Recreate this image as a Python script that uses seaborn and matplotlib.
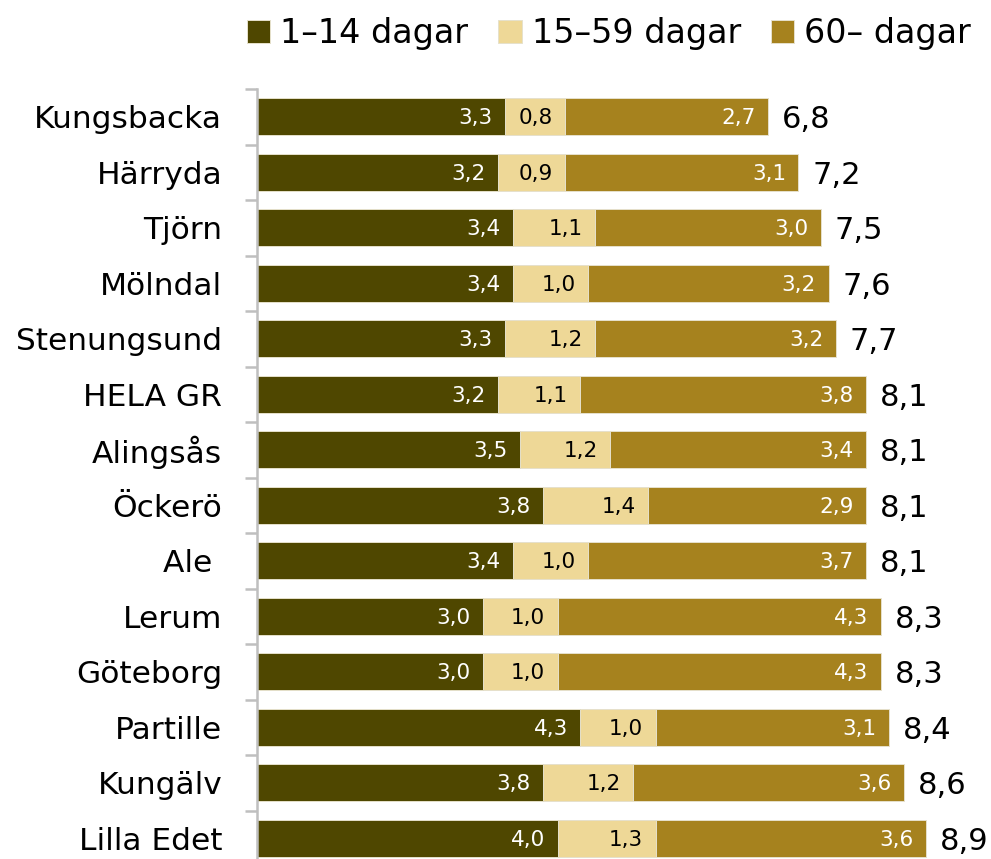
import seaborn as sns
import matplotlib.pyplot as plt
import pandas as pd
import numpy as np

# Data
kommuner = ['Kungsbacka', 'Härryda', 'Tjörn', 'Mölndal', 'Stenungsund', 'HELA GR',
            'Alingsås', 'Öckerö', 'Ale ', 'Lerum', 'Göteborg', 'Partille',
            'Kungälv', 'Lilla Edet']
dagar_1_14 = [3.3, 3.2, 3.4, 3.4, 3.3, 3.2, 3.5, 3.8, 3.4, 3.0, 3.0, 4.3, 3.8, 4.0]
dagar_15_59 = [0.8, 0.9, 1.1, 1.0, 1.2, 1.1, 1.2, 1.4, 1.0, 1.0, 1.0, 1.0, 1.2, 1.3]
dagar_60 = [2.7, 3.1, 3.0, 3.2, 3.2, 3.8, 3.4, 2.9, 3.7, 4.3, 4.3, 3.1, 3.6, 3.6]
serier = ['1–14 dagar', '15–59 dagar', '60– dagar']
farger = ['#4F4700', '#EED897', '#A6821E']

df = pd.DataFrame({'kommun': kommuner, 'a': dagar_1_14, 'b': dagar_15_59, 'c': dagar_60})
df['ab'] = df['a'] + df['b']
df['total'] = df['ab'] + df['c']

def fmt(v):
    return f'{v:.1f}'.replace('.', ',')

fig = plt.figure(figsize=(9.91, 8.59), dpi=100)
ax = fig.add_axes([257 / 991, -7 / 859, 734 / 991, 777 / 859])

# staplade staplar ritade som överlappande kumulativa staplar
for col, c, lab in [('total', farger[2], serier[2]), ('ab', farger[1], serier[1]), ('a', farger[0], serier[0])]:
    sns.barplot(data=df, y='kommun', x=col, color=c, saturation=1, label=lab, orient='h', width=0.67,
                edgecolor='#E6E1CC', linewidth=0.7, ax=ax)
handles, labels = ax.get_legend_handles_labels()
if ax.get_legend() is not None:
    ax.get_legend().remove()

y = np.arange(len(kommuner))
for i in range(len(kommuner)):
    ax.annotate(fmt(df['a'][i]), (df['a'][i], y[i]), xytext=(-9, -1), textcoords='offset points',
                ha='right', va='center', color='white', fontsize=15.5)
    ax.annotate(fmt(df['b'][i]), (df['ab'][i], y[i]), xytext=(-9, -1), textcoords='offset points',
                ha='right', va='center', color='black', fontsize=15.5)
    ax.annotate(fmt(df['c'][i]), (df['total'][i], y[i]), xytext=(-9, -1), textcoords='offset points',
                ha='right', va='center', color='white', fontsize=15.5)
    ax.annotate(fmt(df['total'][i]), (df['total'][i], y[i]), xytext=(10, -2), textcoords='offset points',
                ha='left', va='center', color='black', fontsize=22)

ax.set_xlim(0, 734 / 75.2)
ax.set_ylim(len(kommuner) - 0.5, -0.5)
ax.set_xlabel('')
ax.set_ylabel('')
ax.set_xticks([])
for s in ['top', 'right', 'bottom']:
    ax.spines[s].set_visible(False)
ax.spines['left'].set_color('#BFBFBF')
ax.spines['left'].set_linewidth(1.8)
ax.tick_params(axis='y', which='major', length=0, pad=25, labelsize=22.5)
ax.set_yticks(np.arange(len(kommuner) + 1) - 0.5, minor=True)
ax.tick_params(axis='y', which='minor', length=9, width=1.8, color='#BFBFBF')

# legend i kategoriordning
order = [labels.index(s) for s in serier]
fig.legend([handles[k] for k in order], serier, loc='upper right', bbox_to_anchor=(1.01, 1.015),
           ncol=3, frameon=False, handlelength=0.7, handleheight=0.7, handletextpad=0.3,
           columnspacing=0.9, prop={'size': 24})

fig.savefig('out.png', dpi=100)
